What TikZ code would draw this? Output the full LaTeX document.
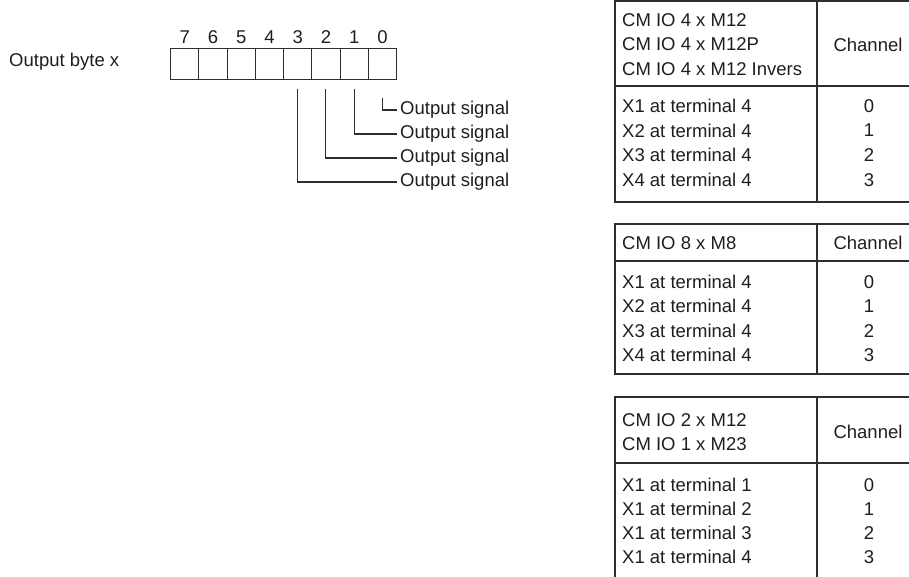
\documentclass[tikz,border=0pt]{standalone}
\usepackage{fontspec}
\setmainfont{Liberation Sans}
\usetikzlibrary{positioning}
\definecolor{ink}{HTML}{1E1E1E}
\definecolor{line}{HTML}{2E2E2E}
\tikzset{
  font=\fontsize{18.5}{24.5}\selectfont,
  bitcell/.style={
    draw=line,
    line width=1.1pt,
    minimum width=28.25pt,
    minimum height=31pt,
    inner sep=0pt,
    anchor=north west
  },
  bitnum/.style={
    text=ink,
    inner sep=0pt
  },
  plain/.style={
    text=ink,
    inner sep=0pt
  },
  signal/.style={
    text=ink,
    inner xsep=3pt,
    inner ysep=0pt,
    anchor=west
  },
  cell/.style={
    text=ink,
    inner sep=0pt,
    anchor=west,
    align=left
  },
  chan/.style={
    text=ink,
    inner sep=0pt
  },
  frame/.style={
    draw=line,
    line width=1.2pt
  },
  leader/.style={
    draw=line,
    line width=1.1pt
  }
}

\begin{document}
\begin{tikzpicture}[x=1pt, y=-1pt]
\clip (0,0) rectangle (909,577);

% ---------------------------------------------------------------------------
% 1. Output byte and its bits
% ---------------------------------------------------------------------------
\node[plain, anchor=base west] (bytelabel) at (9,67) {Output byte x};
\foreach \i in {0,...,7} {
  \node[bitcell] (bit\i) at ({396-(\i+1)*28.25},48) {};
  \node[bitnum, above=4.5pt of bit\i] (num\i) {\i};
}

% signal labels
\foreach \i/\y in {0/110,1/134,2/158,3/182} {
  \node[signal] (sig\i) at (397,\y) {Output signal};
}

\draw[leader] ([yshift=-18pt]bit0.south) |- (sig0.west);
\foreach \i in {1,2,3} {
  \draw[leader] ([yshift=-9pt]bit\i.south) |- (sig\i.west);
}

% ---------------------------------------------------------------------------
% 2. Channel tables
% ---------------------------------------------------------------------------
% CM IO 4 x M12
\draw[frame] (615,1) rectangle (919,202);
\draw[frame] (817,1) -- (817,202);
\draw[frame] (615,86) -- (919,86);
\node[cell] (headA) at (622,44.5) {CM IO 4 x M12\\CM IO 4 x M12P\\CM IO 4 x M12 Invers};
\node[chan] (chanA) at (868,44.5) {Channel};
\foreach \r/\c in {1/0,2/1,3/2,4/3} {
  \node[cell] (rowA\r) at (622,{106+24.6*(\r-1)}) {X\r{} at terminal 4};
  \node[chan] (valA\r) at (869,{106+24.6*(\r-1)}) {\c};
}

% CM IO 8 x M8
\draw[frame] (615,224) rectangle (919,374);
\draw[frame] (817,224) -- (817,374);
\draw[frame] (615,261) -- (919,261);
\node[cell] (headB) at (622,243) {CM IO 8 x M8};
\node[chan] (chanB) at (868,243) {Channel};
\foreach \r/\c in {1/0,2/1,3/2,4/3} {
  \node[cell] (rowB\r) at (622,{282+24.3*(\r-1)}) {X\r{} at terminal 4};
  \node[chan] (valB\r) at (869,{282+24.3*(\r-1)}) {\c};
}

% CM IO 2 x M12 / CM IO 1 x M23
\draw[frame] (615,397) rectangle (919,592);
\draw[frame] (817,397) -- (817,592);
\draw[frame] (615,463) -- (919,463);
\node[cell] (headC) at (622,432) {CM IO 2 x M12\\CM IO 1 x M23};
\node[chan] (chanC) at (868,432) {Channel};
\foreach \r/\c in {1/0,2/1,3/2,4/3} {
  \node[cell] (rowC\r) at (622,{485+24*(\r-1)}) {X1 at terminal \r};
  \node[chan] (valC\r) at (869,{485+24*(\r-1)}) {\c};
}

\end{tikzpicture}
\end{document}
